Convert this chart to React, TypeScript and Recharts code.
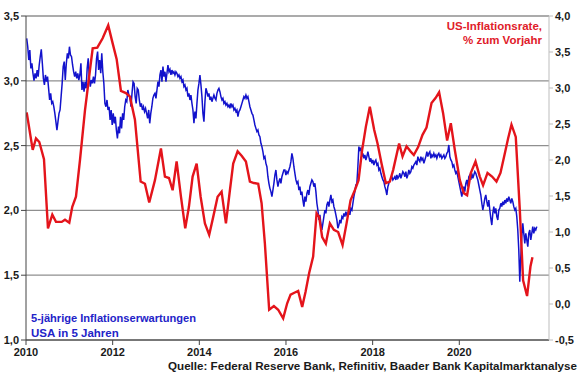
import React from "react";
import { LineChart, Line, XAxis, YAxis, CartesianGrid } from "recharts";

// X axis in the chart's own year units
const xDomain: [number, number] = [2010, 2022.07];
const xTicks = [2010, 2012, 2014, 2016, 2018, 2020];
const leftTicks = [1.0, 1.5, 2.0, 2.5, 3.0, 3.5];
const rightTicks = [-0.5, 0, 0.5, 1.0, 1.5, 2.0, 2.5, 3.0, 3.5, 4.0];

// US-Inflationsrate, % zum Vorjahr (right axis)
const redDates = [
  2010.016, 2010.155, 2010.231, 2010.307, 2010.415, 2010.507, 2010.607, 2010.692, 2010.824, 2010.9,
  2010.999, 2011.068, 2011.153, 2011.246, 2011.361, 2011.476, 2011.539, 2011.645, 2011.769, 2011.898,
  2012.0, 2012.092, 2012.191, 2012.307, 2012.399, 2012.514, 2012.646, 2012.745, 2012.844, 2012.976,
  2013.114, 2013.206, 2013.299, 2013.384, 2013.476, 2013.576, 2013.675, 2013.76, 2013.845, 2013.938,
  2014.03, 2014.129, 2014.228, 2014.321, 2014.422, 2014.514, 2014.614, 2014.706, 2014.782, 2014.884,
  2014.976, 2015.075, 2015.167, 2015.26, 2015.359, 2015.437, 2015.513, 2015.612, 2015.721, 2015.82,
  2015.935, 2016.028, 2016.106, 2016.205, 2016.281, 2016.374, 2016.452, 2016.535, 2016.627, 2016.706,
  2016.766, 2016.835, 2016.92, 2017.013, 2017.105, 2017.204, 2017.306, 2017.398, 2017.49, 2017.589,
  2017.675, 2017.758, 2017.843, 2017.935, 2018.035, 2018.113, 2018.205, 2018.304, 2018.397, 2018.473,
  2018.611, 2018.69, 2018.782, 2018.874, 2018.95, 2019.05, 2019.151, 2019.243, 2019.359, 2019.451,
  2019.534, 2019.626, 2019.719, 2019.804, 2019.896, 2020.012, 2020.104, 2020.18, 2020.265, 2020.374,
  2020.473, 2020.549, 2020.651, 2020.756, 2020.858, 2020.95, 2021.05, 2021.126, 2021.204, 2021.303,
  2021.396, 2021.472, 2021.564, 2021.642, 2021.688,
];
const redValues = [
  2.66, 2.14, 2.30, 2.25, 2.01, 1.05, 1.24, 1.14, 1.14, 1.17,
  1.13, 1.35, 1.49, 2.00, 2.69, 3.25, 3.55, 3.56, 3.69, 3.87,
  3.62, 3.40, 2.96, 2.93, 2.88, 2.56, 1.70, 1.67, 1.41, 1.72,
  2.16, 1.77, 1.75, 1.58, 1.98, 1.49, 1.05, 1.35, 1.77, 1.95,
  1.49, 1.12, 0.96, 1.21, 1.49, 1.56, 1.12, 1.58, 1.95, 2.12,
  2.06, 1.98, 1.70, 1.68, 1.67, 1.40, 0.84, -0.08, -0.03, -0.08,
  -0.20, 0.01, 0.13, 0.16, 0.18, -0.04, 0.17, 0.43, 0.66, 1.26,
  1.21, 0.93, 0.84, 1.12, 1.03, 1.00, 0.82, 1.12, 1.44, 1.58,
  1.72, 2.14, 2.46, 2.74, 2.42, 2.23, 1.95, 1.68, 1.70, 1.86,
  2.23, 2.05, 2.19, 2.12, 2.07, 2.18, 2.35, 2.45, 2.79, 2.86,
  2.94, 2.65, 2.27, 2.51, 2.14, 1.72, 1.54, 1.51, 1.82, 1.98,
  1.77, 1.65, 1.82, 1.77, 1.70, 1.82, 2.09, 2.30, 2.49, 2.32,
  1.31, 0.33, 0.11, 0.52, 0.65,
];

// 5-jährige Inflationserwartungen USA in 5 Jahren (left axis), sampled evenly within each period
const blueSpan1: [number, number] = [2010.016, 2012.976];
const blueValues1 = [
  3.328, 3.263, 3.16, 3.238, 3.096, 3.135, 3.058, 3.001, 3.058, 3.019,
  3.083, 3.032, 3.122, 3.186, 3.243, 3.135, 3.019, 2.968, 3.045, 2.993,
  3.032, 2.942, 2.852, 2.903, 2.826, 2.839, 2.8, 2.749, 2.685, 2.62,
  2.685, 2.749, 2.775, 2.878, 2.98, 3.109, 3.148, 3.006, 3.135, 3.212,
  3.173, 3.263, 3.199, 3.186, 3.122, 3.07, 3.032, 3.07, 3.019, 3.058,
  3.006, 3.045, 3.135, 2.929, 2.993, 2.916, 2.993, 2.942, 3.096, 3.173,
  3.032, 2.955, 3.006, 2.98, 3.032, 2.98, 3.045, 3.173, 3.225, 3.083,
  3.16, 3.058, 3.212, 3.07, 2.98, 2.826, 2.8, 2.852, 2.775, 2.8,
  2.698, 2.775, 2.659, 2.749, 2.672, 2.723, 2.62, 2.556, 2.646, 2.595,
  2.723, 2.633, 2.749, 2.698, 2.8, 2.852, 2.839, 2.929, 2.89, 2.878,
  2.8, 2.903, 2.993, 2.98, 2.878, 2.826, 2.942, 2.929, 2.852, 2.8,
  2.826, 2.775, 2.8, 2.762, 2.787, 2.749, 2.71, 2.775, 2.672, 2.749,
  2.8, 2.865, 2.89, 2.903,
];
const blueSpan2: [number, number] = [2012.976, 2015.952];
const blueValues2 = [
  2.89, 2.865, 2.929, 2.993, 2.955, 3.045, 3.083, 2.993, 3.109, 3.032,
  3.07, 2.993, 3.058, 3.122, 3.07, 3.088, 3.045, 3.083, 3.058, 3.07,
  3.045, 3.07, 3.058, 3.032, 3.045, 3.019, 3.032, 2.993, 3.006, 2.955,
  2.968, 2.929, 2.942, 2.878, 2.903, 2.852, 2.89, 2.826, 2.775, 2.672,
  2.762, 2.71, 2.826, 2.929, 2.98, 3.045, 2.968, 2.878, 2.749, 2.685,
  2.839, 2.942, 2.916, 2.878, 2.903, 2.852, 2.878, 2.839, 2.865, 2.89,
  2.865, 2.852, 2.903, 2.929, 2.942, 2.916, 2.878, 2.852, 2.865, 2.826,
  2.839, 2.813, 2.826, 2.8, 2.813, 2.788, 2.826, 2.8, 2.813, 2.775,
  2.788, 2.762, 2.775, 2.723, 2.762, 2.775, 2.8, 2.826, 2.852, 2.878,
  2.865, 2.89, 2.865, 2.878, 2.839, 2.8, 2.775, 2.749, 2.736, 2.698,
  2.659, 2.633, 2.608, 2.62, 2.582, 2.569, 2.518, 2.492, 2.453, 2.402,
  2.415, 2.363, 2.337, 2.26, 2.209, 2.17, 2.145, 2.106, 2.157, 2.209,
  2.273, 2.312, 2.235, 2.183, 2.222, 2.247, 2.209, 2.26, 2.286, 2.312,
];
const blueSpan3: [number, number] = [2015.952, 2018.974];
const blueValues3 = [
  2.286, 2.312, 2.273, 2.299, 2.286, 2.312, 2.337, 2.376, 2.44, 2.402,
  2.337, 2.286, 2.235, 2.209, 2.222, 2.157, 2.183, 2.119, 2.145, 2.08,
  2.029, 2.106, 2.067, 2.132, 2.157, 2.119, 2.183, 2.209, 2.235, 2.222,
  2.183, 2.209, 2.145, 2.055, 2.003, 1.926, 1.965, 1.9, 1.849, 1.9,
  1.952, 2.003, 1.977, 2.042, 2.067, 2.029, 2.08, 2.119, 2.067, 2.08,
  2.029, 2.003, 1.965, 1.926, 1.862, 1.887, 1.926, 1.9, 1.952, 1.939,
  1.977, 1.952, 1.99, 1.965, 1.977, 2.003, 1.965, 2.016, 2.003, 2.055,
  2.106, 2.145, 2.196, 2.209, 2.337, 2.492, 2.466, 2.479, 2.415, 2.44,
  2.402, 2.428, 2.389, 2.415, 2.453, 2.415, 2.376, 2.402, 2.363, 2.389,
  2.35, 2.376, 2.389, 2.35, 2.363, 2.312, 2.325, 2.286, 2.26, 2.235,
  2.222, 2.183, 2.157, 2.119, 2.183, 2.209, 2.235, 2.247, 2.26, 2.235,
  2.247, 2.26, 2.235, 2.273, 2.247, 2.26, 2.286, 2.247, 2.273, 2.299,
  2.286, 2.26, 2.299, 2.247, 2.273, 2.312, 2.286, 2.299, 2.337, 2.325,
  2.35, 2.363,
];
const blueSpan4: [number, number] = [2018.974, 2021.788];
const blueValues4 = [
  2.337, 2.376, 2.35, 2.415, 2.389, 2.376, 2.415, 2.389, 2.402, 2.363,
  2.389, 2.415, 2.453, 2.415, 2.44, 2.453, 2.402, 2.428, 2.415, 2.44,
  2.415, 2.428, 2.402, 2.428, 2.44, 2.415, 2.428, 2.402, 2.415, 2.428,
  2.402, 2.415, 2.44, 2.453, 2.505, 2.415, 2.389, 2.376, 2.337, 2.35,
  2.312, 2.286, 2.299, 2.26, 2.222, 2.183, 2.145, 2.106, 2.157, 2.183,
  2.145, 2.209, 2.235, 2.183, 2.26, 2.273, 2.235, 2.286, 2.247, 2.273,
  2.299, 2.286, 2.26, 2.235, 2.196, 2.157, 2.119, 2.055, 2.003, 2.042,
  2.093, 2.119, 2.067, 2.029, 2.08, 2.003, 1.939, 1.887, 1.977, 2.029,
  1.977, 2.016, 1.952, 1.926, 2.003, 2.016, 2.055, 2.029, 2.067, 2.042,
  2.08, 2.055, 2.093, 2.067, 2.106, 2.08, 2.055, 2.093, 2.067, 2.029,
  2.003, 2.016, 1.952, 1.849, 1.694, 1.45, 1.643, 1.797, 1.9, 1.823,
  1.746, 1.823, 1.772, 1.72, 1.823, 1.849, 1.772, 1.823, 1.875, 1.823,
  1.862, 1.849, 1.875,
];

const buildSegment = (span: [number, number], values: number[]) =>
  values.map((v, i) => ({ t: span[0] + ((span[1] - span[0]) * i) / (values.length - 1), v }));

const blueData = [
  ...buildSegment(blueSpan1, blueValues1),
  ...buildSegment(blueSpan2, blueValues2).slice(1),
  ...buildSegment(blueSpan3, blueValues3).slice(1),
  ...buildSegment(blueSpan4, blueValues4).slice(1),
];
const redData = redDates.map((t, i) => ({ t, v: redValues[i] }));

const FONT = "'Liberation Sans', Arial, sans-serif";
const comma = (v: number) => v.toFixed(1).replace(".", ",");
const tickStyle = { fontFamily: FONT, fontSize: 11, fontWeight: 700, fill: "#1a1a1a" };

export default function App() {
  return (
    <div style={{ position: "absolute", left: 0, top: 0, width: 580, height: 375, background: "#fff" }}>
      <LineChart width={580} height={375} data={redData} margin={{ top: 16, right: 0, bottom: 0, left: 0 }}>
        <CartesianGrid yAxisId="left" vertical={false} stroke="#8f8f8f" strokeWidth={1.3} />
        <XAxis
          dataKey="t"
          type="number"
          domain={xDomain}
          ticks={xTicks}
          allowDataOverflow
          height={35}
          tickSize={5}
          tickMargin={3}
          tick={tickStyle}
          stroke="#444"
          tickLine={{ stroke: "#444" }}
        />
        <YAxis
          yAxisId="left"
          domain={[1, 3.5]}
          ticks={leftTicks}
          width={26}
          tickSize={5}
          tickMargin={2}
          tickFormatter={comma}
          tick={tickStyle}
          stroke="#444"
          interval={0}
        />
        <YAxis
          yAxisId="right"
          orientation="right"
          domain={[-0.5, 4]}
          ticks={rightTicks}
          width={31}
          tickSize={4}
          tickMargin={2}
          tickFormatter={comma}
          tick={{ ...tickStyle, textAnchor: "start" }}
          stroke="#bdbdbd"
          interval={0}
        />
        <Line
          data={blueData}
          dataKey="v"
          yAxisId="left"
          type="linear"
          stroke="#1212cc"
          strokeWidth={1.5}
          dot={false}
          activeDot={false}
          isAnimationActive={false}
        />
        <Line
          data={redData}
          dataKey="v"
          yAxisId="right"
          type="linear"
          stroke="#e4141b"
          strokeWidth={2.4}
          dot={false}
          activeDot={false}
          isAnimationActive={false}
        />
      </LineChart>
      <svg width={580} height={375} style={{ position: "absolute", left: 0, top: 0, pointerEvents: "none" }}>
        <g fontFamily={FONT} fontWeight={700}>
          <text x={542} y={30} fontSize={11.5} fill="#e0202a" textAnchor="end">US-Inflationsrate,</text>
          <text x={542} y={44} fontSize={11.5} fill="#e0202a" textAnchor="end">% zum Vorjahr</text>
          <text x={31} y={322} fontSize={11.5} fill="#2323c8" textLength={165} lengthAdjust="spacingAndGlyphs">5-jährige Inflationserwartungen</text>
          <text x={31} y={337} fontSize={11.5} fill="#2323c8">USA in 5 Jahren</text>
          <text x={577} y={370} fontSize={11} fill="#1a1a1a" textAnchor="end" textLength={409} lengthAdjust="spacingAndGlyphs">Quelle: Federal Reserve Bank, Refinitiv, Baader Bank Kapitalmarktanalyse</text>
        </g>
      </svg>
    </div>
  );
}
